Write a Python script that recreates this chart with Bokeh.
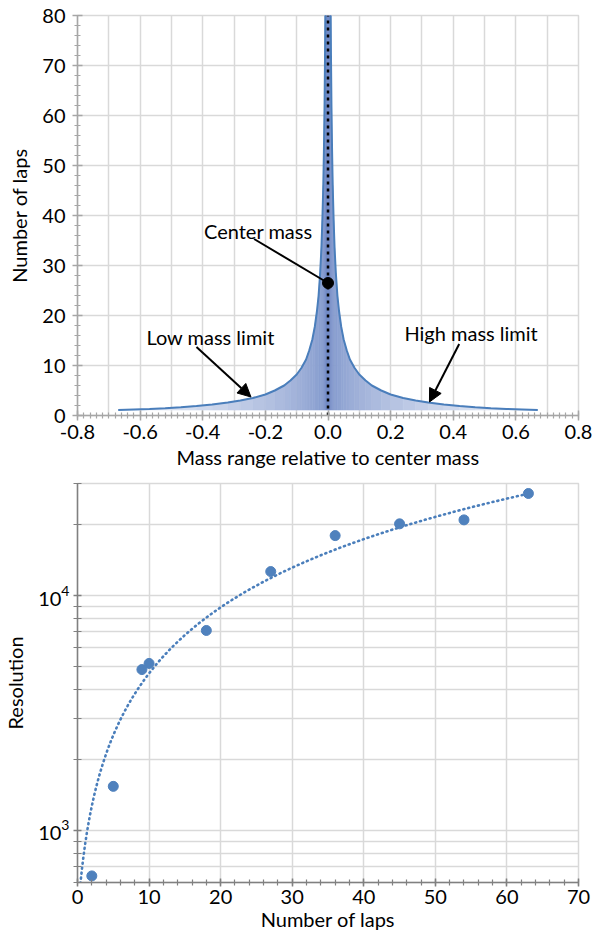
import numpy as np
from bokeh.plotting import figure
from bokeh.models import (Range1d, Arrow, NormalHead, Label, SingleIntervalTicker,
                          PrintfTickFormatter, FixedTicker, LogTickFormatter)
from bokeh.layouts import column
from bokeh.embed import file_html
from bokeh.resources import INLINE

# ---------------- data: top chart (symmetric peak, offsets from centre) ----------------
offsets = [0.007, 0.008, 0.0095, 0.011, 0.013, 0.015, 0.018, 0.021, 0.025, 0.03, 0.035,
           0.042, 0.05, 0.06, 0.07, 0.085, 0.1, 0.12, 0.14, 0.17, 0.2, 0.24, 0.28, 0.32,
           0.37, 0.42, 0.47, 0.52, 0.57, 0.62, 0.67]
laps = [97, 85, 72, 62, 53, 46, 39, 33.5, 28.5, 24, 21, 17.8, 15.2, 13, 11.2, 9.5, 8.2,
        7.0, 6.0, 5.0, 4.2, 3.5, 3.0, 2.6, 2.2, 1.9, 1.65, 1.45, 1.3, 1.2, 1.1]
center_mass = [0.0]
center_laps = [26.5]

# ---------------- data: bottom chart ----------------
n_laps = [2, 5, 9, 10, 18, 27, 36, 45, 54, 63]
resolution = [640, 1540, 4840, 5140, 7100, 12650, 18000, 20200, 21000, 27200]
res_major_ticks = [1000, 10000]
res_minor_ticks = [600, 700, 800, 900, 2000, 3000, 4000, 5000, 6000, 7000, 8000, 9000,
                   20000, 30000]

FONT = "Lato"
FS = "20px"
TXT = "#000000"
GRID = "#d9d9d9"
BLUE_LINE = "#4a7ebb"
BLUE_DOT = "#4f81bd"


def style_text(ax):
    ax.major_label_text_font = FONT
    ax.major_label_text_font_size = FS
    ax.major_label_text_color = TXT
    ax.axis_label_text_font = FONT
    ax.axis_label_text_font_size = FS
    ax.axis_label_text_font_style = "normal"
    ax.axis_label_text_color = TXT


# ================= top figure =================
p1 = figure(width=597, height=476, output_backend="svg", toolbar_location=None,
            x_range=Range1d(-0.8, 0.8), y_range=Range1d(0, 80),
            min_border_left=74, min_border_right=19, min_border_top=15, min_border_bottom=61)
p1.outline_line_color = GRID
p1.outline_line_width = 1.5

xs = [-o for o in reversed(offsets)] + list(offsets)
ys = list(reversed(laps)) + list(laps)
base = min(laps)

c0 = np.array([114, 139, 198])
c1 = np.array([236, 240, 248])
pxs, pys, cols = [], [], []
for i in range(len(xs) - 1):
    xa, xb = xs[i], xs[i + 1]
    mid = abs(0.5 * (xa + xb))
    t = min(1.0, (mid / 0.67)) ** 0.5
    c = (c0 + (c1 - c0) * t).astype(int)
    cols.append("#%02x%02x%02x" % tuple(c))
    pxs.append([xa, xb, xb, xa])
    pys.append([base, base, ys[i + 1], ys[i]])
p1.patches(pxs, pys, fill_color=cols, line_color=cols, line_width=0.6)
p1.line(xs, ys, line_color=BLUE_LINE, line_width=2)

# axes / grid
p1.xaxis.ticker = SingleIntervalTicker(interval=0.2, num_minor_ticks=10)
p1.xaxis.formatter = PrintfTickFormatter(format="%.1f")
p1.yaxis.ticker = SingleIntervalTicker(interval=10, num_minor_ticks=5)
p1.xgrid.ticker = SingleIntervalTicker(interval=0.1)
p1.ygrid.ticker = SingleIntervalTicker(interval=10)
for g in (p1.xgrid, p1.ygrid):
    g.grid_line_color = GRID
    g.grid_line_width = 1.5
for ax in (p1.xaxis, p1.yaxis):
    ax.axis_line_color = "#a6a6a6"
    ax.axis_line_width = 1.5
    ax.major_tick_line_color = "#a6a6a6"
    ax.minor_tick_line_color = "#a6a6a6"
    ax.major_tick_line_width = 1.5
    ax.minor_tick_line_width = 1.2
    ax.major_tick_in = 5
    ax.major_tick_out = 5
    ax.minor_tick_in = 3
    ax.minor_tick_out = 3
    style_text(ax)
p1.xaxis.axis_label = "Mass range relative to center mass"
p1.yaxis.axis_label = "Number of laps"
p1.xaxis.major_label_standoff = 4
p1.xaxis.axis_label_standoff = 3
p1.yaxis.major_label_standoff = 7
p1.yaxis.axis_label_standoff = 8

# centre line and point
p1.line([center_mass[0], center_mass[0]], [0, 80], line_color="black", line_width=2.5,
        line_dash="3 4")
p1.scatter(center_mass, center_laps, size=11, color="black")

# annotations
head = dict(size=13, fill_color="black", line_color="black", line_width=1)
p1.add_layout(Arrow(end=None, x_start=-0.236, y_start=35.3, x_end=0.0, y_end=26.5,
                    line_width=2, line_color="black"))
p1.add_layout(Arrow(end=NormalHead(**head), x_start=-0.420, y_start=13.7, x_end=-0.246,
                    y_end=3.7, line_width=2, line_color="black"))
p1.add_layout(Arrow(end=NormalHead(**head), x_start=0.419, y_start=14.3, x_end=0.324,
                    y_end=2.7, line_width=2, line_color="black"))
for tx, x, y in (("Center mass", -0.396, 37.0), ("Low mass limit", -0.58, 15.8),
                 ("High mass limit", 0.244, 16.6)):
    p1.add_layout(Label(x=x, y=y, text=tx, text_font=FONT, text_font_size=FS,
                        text_color=TXT, text_baseline="middle", text_align="left"))

# ================= bottom figure =================
p2 = figure(width=597, height=460, output_backend="svg", toolbar_location=None,
            x_range=Range1d(0, 70), y_range=Range1d(600, 30000), y_axis_type="log",
            min_border_left=74, min_border_right=19, min_border_top=7, min_border_bottom=54)
p2.outline_line_color = GRID
p2.outline_line_width = 1.5

coef = np.polyfit(n_laps, resolution, 1)
tx_ = np.linspace(0, max(n_laps), 300)
p2.line(tx_, np.polyval(coef, tx_), line_color=BLUE_LINE, line_width=2.6,
        line_dash="1 4", line_cap="round")
p2.scatter(n_laps, resolution, size=10, color=BLUE_DOT)

p2.xaxis.ticker = SingleIntervalTicker(interval=10, num_minor_ticks=5)
p2.yaxis.ticker = FixedTicker(ticks=res_major_ticks, minor_ticks=res_minor_ticks)
p2.yaxis.formatter = LogTickFormatter()
p2.xgrid.grid_line_color = GRID
p2.ygrid.grid_line_color = GRID
p2.ygrid.minor_grid_line_color = GRID
p2.xgrid.grid_line_width = 1.5
p2.ygrid.grid_line_width = 1.5
p2.ygrid.minor_grid_line_width = 1.5
for ax in (p2.xaxis, p2.yaxis):
    ax.axis_line_color = "#808080"
    ax.axis_line_width = 1.5
    ax.major_tick_line_color = "#808080"
    ax.minor_tick_line_color = "#808080"
    ax.major_tick_line_width = 1.5
    ax.minor_tick_line_width = 1.2
    style_text(ax)
p2.xaxis.major_tick_in = 4
p2.xaxis.major_tick_out = 4
p2.xaxis.minor_tick_in = 3
p2.xaxis.minor_tick_out = 3
p2.yaxis.major_tick_in = 4
p2.yaxis.major_tick_out = 4
p2.yaxis.minor_tick_in = 4
p2.yaxis.minor_tick_out = 4
p2.xaxis.axis_label = "Number of laps"
p2.yaxis.axis_label = "Resolution"
p2.xaxis.major_label_standoff = 3
p2.xaxis.axis_label_standoff = 0
p2.yaxis.major_label_standoff = 4
p2.yaxis.axis_label_standoff = 8

layout = column(p1, p2, spacing=0)
open("out.html", "w").write(file_html(layout, INLINE))
